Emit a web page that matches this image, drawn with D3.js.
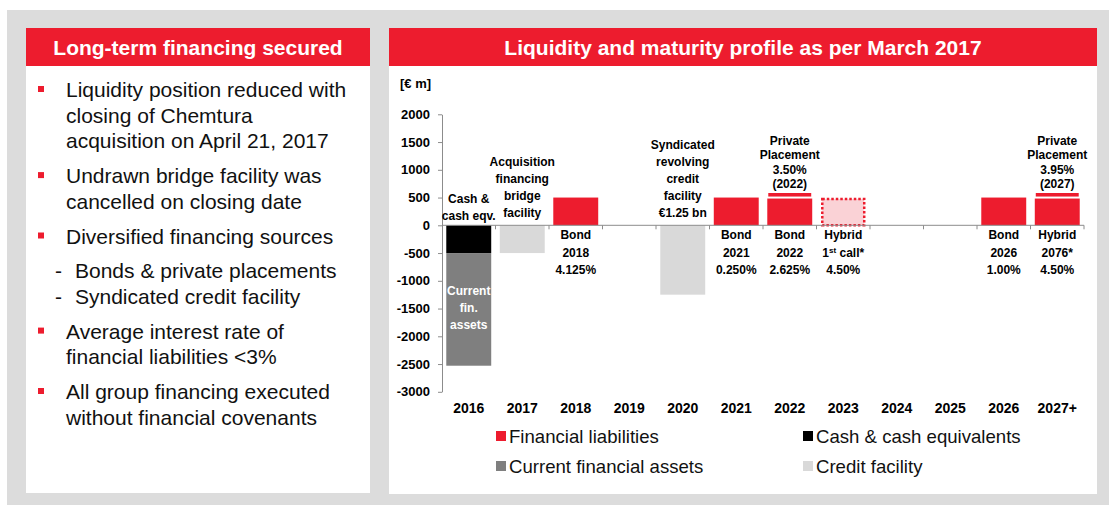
<!DOCTYPE html>
<html>
<head>
<meta charset="utf-8">
<script src="https://cdn.jsdelivr.net/npm/d3@7"></script>
<style>
  body { margin: 0; background: #fff; }
  svg { display: block; font-family: Arial, "Liberation Sans", sans-serif; }
</style>
</head>
<body>
<svg id="chart" width="1109" height="505"></svg>
<script>
// ---- data ----
var years = ["2016", "2017", "2018", "2019", "2020", "2021", "2022", "2023", "2024", "2025", "2026", "2027+"];
var bonds = [0, 0, 500, 0, 0, 500, 500, 0, 0, 0, 500, 500];
var placements = [0, 0, 0, 0, 0, 0, 100, 0, 0, 0, 0, 100];
var hybridCall = [0, 0, 0, 0, 0, 0, 0, 500, 0, 0, 0, 0];
var cashEqv = [-500, 0, 0, 0, 0, 0, 0, 0, 0, 0, 0, 0];
var currentAssets = [-2030, 0, 0, 0, 0, 0, 0, 0, 0, 0, 0, 0];
var creditFacility = [0, -500, 0, 0, -1250, 0, 0, 0, 0, 0, 0, 0];
var yTicks = [2000, 1500, 1000, 500, 0, -500, -1000, -1500, -2000, -2500, -3000];

var labelsAbove = [
  {year: "2016", lines: ["Cash &", "cash eqv."]},
  {year: "2017", lines: ["Acquisition", "financing", "bridge", "facility"]},
  {year: "2020", lines: ["Syndicated", "revolving", "credit", "facility", "€1.25 bn"]},
  {year: "2022", lines: ["Private", "Placement", "3.50%", "(2022)"], tight: true},
  {year: "2027+", lines: ["Private", "Placement", "3.95%", "(2027)"], tight: true}
];
var labelsBelow = [
  {year: "2018", lines: ["Bond", "2018", "4.125%"]},
  {year: "2021", lines: ["Bond", "2021", "0.250%"]},
  {year: "2022", lines: ["Bond", "2022", "2.625%"]},
  {year: "2023", lines: ["Hybrid", "1|st| call*", "4.50%"]},
  {year: "2026", lines: ["Bond", "2026", "1.00%"]},
  {year: "2027+", lines: ["Hybrid", "2076*", "4.50%"]}
];
var assetsLabel = ["Current", "fin.", "assets"];

var bulletItems = [
  {mark: "bullet", lines: ["Liquidity position reduced with", "closing of Chemtura", "acquisition on April 21, 2017"]},
  {mark: "bullet", lines: ["Undrawn bridge facility was", "cancelled on closing date"]},
  {mark: "bullet", lines: ["Diversified financing sources"]},
  {mark: "dash", lines: ["Bonds & private placements", "Syndicated credit facility"]},
  {mark: "bullet", lines: ["Average interest rate of", "financial liabilities <3%"]},
  {mark: "bullet", lines: ["All group financing executed", "without financial covenants"]}
];

var legendItems = [
  {name: "Financial liabilities", color: "#ed1c2e"},
  {name: "Cash & cash equivalents", color: "#000000"},
  {name: "Current financial assets", color: "#7f7f7f"},
  {name: "Credit facility", color: "#d9d9d9"}
];

var RED = "#ed1c2e";
var svg = d3.select("#chart");

// ---- panels ----
svg.append("rect").attr("x", 7).attr("y", 10).attr("width", 1102).attr("height", 495).attr("fill", "#dcdcdc");
svg.append("rect").attr("x", 26).attr("y", 28).attr("width", 344).attr("height", 465).attr("fill", "#fff");
svg.append("rect").attr("x", 389).attr("y", 28).attr("width", 708).attr("height", 466).attr("fill", "#fff");
svg.append("rect").attr("x", 26).attr("y", 28).attr("width", 344).attr("height", 38).attr("fill", RED);
svg.append("rect").attr("x", 389).attr("y", 28).attr("width", 708).attr("height", 38).attr("fill", RED);

svg.append("text")
  .attr("x", 198).attr("y", 55)
  .attr("text-anchor", "middle")
  .style("font-size", "21px").style("font-weight", "bold")
  .attr("fill", "#fff")
  .text("Long-term financing secured");

svg.append("text")
  .attr("x", 743).attr("y", 55)
  .attr("text-anchor", "middle")
  .style("font-size", "21px").style("font-weight", "bold")
  .attr("fill", "#fff")
  .text("Liquidity and maturity profile as per March 2017");

// ---- left bullet list ----
var lh = 25.7, gap = 9, base = 97;
bulletItems.forEach(function (item, i) {
  if (i > 0) base += gap;
  item.lines.forEach(function (line, j) {
    if (item.mark === "bullet") {
      if (j === 0) {
        svg.append("rect").attr("x", 38).attr("y", base - 11).attr("width", 6).attr("height", 6).attr("fill", RED);
      }
      svg.append("text").attr("x", 66).attr("y", base)
        .style("font-size", "21px").attr("fill", "#111").text(line);
    } else {
      svg.append("text").attr("x", 55).attr("y", base)
        .style("font-size", "21px").attr("fill", "#111").text("-");
      svg.append("text").attr("x", 75).attr("y", base)
        .style("font-size", "21px").attr("fill", "#111").text(line);
    }
    base += lh;
  });
});

// ---- chart ----
var x = d3.scaleBand()
  .domain(years)
  .range([442, 1084])
  .paddingInner(0.16)
  .paddingOuter(0.08);

var y = d3.scaleLinear()
  .domain([-3000, 2000])
  .range([391.8, 114.3]);

var rows = years.map(function (yr, i) {
  return {year: yr, bonds: bonds[i], placements: placements[i], hybrid: hybridCall[i],
          cash: cashEqv[i], assets: currentAssets[i], credit: creditFacility[i]};
});
var keys = ["bonds", "placements", "hybrid", "cash", "assets", "credit"];
var series = d3.stack().keys(keys).offset(d3.stackOffsetDiverging)(rows);

var fills = {bonds: RED, placements: RED, hybrid: "#fad2d6", cash: "#000", assets: "#7f7f7f", credit: "#d9d9d9"};

var g = svg.append("g");
series.forEach(function (s) {
  var segs = s.filter(function (d) { return d[1] !== d[0]; });
  var sel = g.selectAll(".bar-" + s.key)
    .data(segs)
    .enter().append("rect")
    .attr("class", "bar-" + s.key)
    .attr("x", function (d) { return x(d.data.year); })
    .attr("width", x.bandwidth())
    .attr("y", function (d) { return y(Math.max(d[0], d[1])); })
    .attr("height", function (d) { return Math.abs(y(d[0]) - y(d[1])); })
    .attr("fill", fills[s.key]);
  if (s.key === "placements") {
    sel.attr("stroke", "#fff").attr("stroke-width", 2);
  }
  if (s.key === "hybrid") {
    sel.attr("x", function (d) { return x(d.data.year) + 1.5; })
      .attr("width", x.bandwidth() - 3)
      .attr("y", function (d) { return y(d[1]) + 1.5; })
      .attr("height", function (d) { return Math.abs(y(d[0]) - y(d[1])) - 1.5; })
      .attr("stroke", RED)
      .attr("stroke-width", 2.5)
      .attr("stroke-dasharray", "2.5,2");
  }
});

// y axis
var yAxis = g.append("g")
  .attr("transform", "translate(442,0)")
  .call(d3.axisLeft(y).tickValues(yTicks)
    .tickFormat(function (d) { return String(d); })
    .tickSize(4).tickPadding(8).tickSizeOuter(0));
yAxis.select(".domain").attr("stroke", "#8c8c8c");
yAxis.selectAll(".tick line").attr("stroke", "#8c8c8c");
yAxis.selectAll(".tick text")
  .attr("fill", "#000")
  .style("font-size", "13px")
  .style("font-weight", "bold")
  .style("font-family", "Arial, 'Liberation Sans', sans-serif");

// x axis at zero with ticks at category boundaries
g.append("line")
  .attr("x1", 442).attr("x2", 1084)
  .attr("y1", y(0)).attr("y2", y(0))
  .attr("stroke", "#8c8c8c");
var bounds = years.map(function (yr) { return x(yr) - x.step() * x.paddingInner() / 2; });
bounds.push(1084);
g.selectAll(".xtick")
  .data(bounds.slice(1))
  .enter().append("line")
  .attr("class", "xtick")
  .attr("x1", function (d) { return d; }).attr("x2", function (d) { return d; })
  .attr("y1", y(0)).attr("y2", y(0) + 4)
  .attr("stroke", "#8c8c8c");

// category labels
g.selectAll(".xlab")
  .data(years)
  .enter().append("text")
  .attr("class", "xlab")
  .attr("x", function (d) { return x(d) + x.bandwidth() / 2; })
  .attr("y", 413)
  .attr("text-anchor", "middle")
  .style("font-size", "14px")
  .style("font-weight", "bold")
  .text(function (d) { return d; });

svg.append("text")
  .attr("x", 400).attr("y", 88)
  .style("font-size", "13px").style("font-weight", "bold")
  .text("[€ m]");

// bar annotations
function topOf(yr) {
  var i = years.indexOf(yr);
  return Math.max(0, bonds[i] + placements[i] + hybridCall[i]);
}

labelsAbove.forEach(function (lab) {
  var lineH = lab.tight ? 14.4 : 17.2;
  var off = lab.tight ? 4 : (lab.year === "2016" ? 5 : 8);
  var cx = x(lab.year) + x.bandwidth() / 2;
  var bottom = y(topOf(lab.year)) - off;
  lab.lines.forEach(function (line, j) {
    g.append("text")
      .attr("x", cx)
      .attr("y", bottom - (lab.lines.length - 1 - j) * lineH)
      .attr("text-anchor", "middle")
      .style("font-size", "12px").style("font-weight", "bold")
      .text(line);
  });
});

labelsBelow.forEach(function (lab) {
  var cx = x(lab.year) + x.bandwidth() / 2;
  lab.lines.forEach(function (line, j) {
    var t = g.append("text")
      .attr("x", cx)
      .attr("y", y(0) + 14 + j * 17.5)
      .attr("text-anchor", "middle")
      .style("font-size", "12px").style("font-weight", "bold");
    if (line.indexOf("|") >= 0) {
      var parts = line.split("|");
      t.append("tspan").text(parts[0]);
      t.append("tspan").attr("dy", -4).style("font-size", "8px").text(parts[1]);
      t.append("tspan").attr("dy", 4).text(parts[2]);
    } else {
      t.text(line);
    }
  });
});

// label inside the current financial assets bar
var ia = years.indexOf("2016");
var midA = (y(cashEqv[ia]) + y(cashEqv[ia] + currentAssets[ia])) / 2;
assetsLabel.forEach(function (line, j) {
  g.append("text")
    .attr("x", x("2016") + x.bandwidth() / 2)
    .attr("y", midA - 14 + j * 17)
    .attr("text-anchor", "middle")
    .style("font-size", "12px").style("font-weight", "bold")
    .attr("fill", "#fff")
    .text(line);
});

// legend
var legendPos = [[496, 436], [803, 436], [496, 466], [803, 466]];
legendItems.forEach(function (d, i) {
  var p = legendPos[i];
  svg.append("rect").attr("x", p[0]).attr("y", p[1] - 5).attr("width", 10).attr("height", 10).attr("fill", d.color);
  svg.append("text").attr("x", p[0] + 13).attr("y", p[1] + 6.5)
    .style("font-size", "18.6px").attr("fill", "#111").text(d.name);
});
</script>
</body>
</html>
